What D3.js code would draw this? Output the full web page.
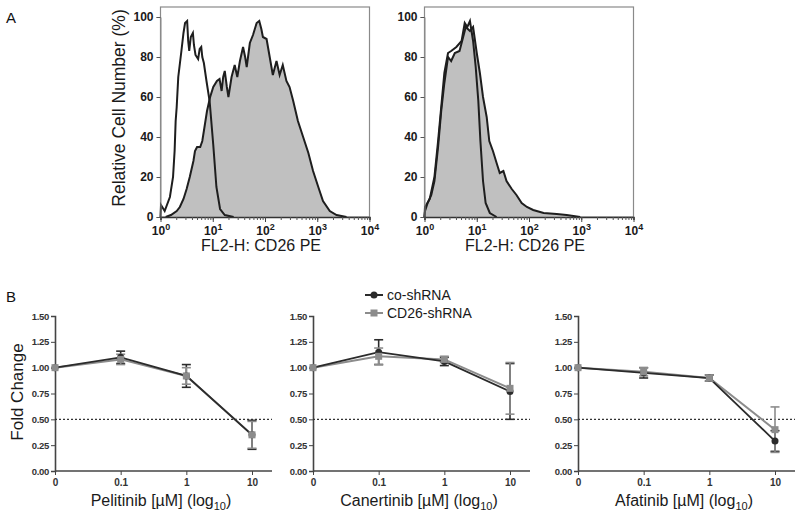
<!DOCTYPE html>
<html><head><meta charset="utf-8">
<script src="https://cdn.jsdelivr.net/npm/d3@7/dist/d3.min.js"></script>
<style>body{margin:0;background:#fff} svg{font-family:"Liberation Sans",Arial,sans-serif}</style>
</head><body><svg id="c" width="800" height="518"></svg>
<script>
// ---------- Panel A data (x = log10 fluorescence exponent, y = % of max) ----------
const histXTicks = [1, 10, 100, 1000, 10000];
const histYTicks = [0, 20, 40, 60, 80, 100];
const histLeftOpen = [[0,0],[0.01,6],[0.08,3],[0.18,10],[0.24,20],[0.27,33],[0.29,48],[0.31,55],[0.34,70],[0.40,83],[0.44,92],[0.47,97],[0.51,98],[0.53,88],[0.55,83],[0.58,90],[0.62,92],[0.64,86],[0.67,81],[0.72,79],[0.75,84],[0.78,85],[0.80,80],[0.83,77],[0.88,68],[0.94,58],[1.01,36],[1.07,15],[1.14,4],[1.23,1],[1.4,0]];
const histLeftFilled = [[0.1,0],[0.2,1],[0.31,3],[0.37,5],[0.44,9],[0.50,14],[0.56,20],[0.63,28],[0.66,33],[0.70,35],[0.76,35],[0.80,38],[0.83,43],[0.89,53],[0.95,60],[1.01,65],[1.08,68],[1.13,69],[1.17,63],[1.20,70],[1.23,73],[1.27,65],[1.30,60],[1.36,70],[1.42,76],[1.47,70],[1.52,78],[1.58,85],[1.62,80],[1.65,75],[1.71,87],[1.77,91],[1.84,97],[1.89,98],[1.93,94],[1.96,90],[2.03,89],[2.09,80],[2.15,71],[2.22,78],[2.28,71],[2.34,76],[2.41,68],[2.47,65],[2.54,58],[2.63,48],[2.73,40],[2.83,32],[2.92,23],[3.02,15],[3.11,8],[3.24,3],[3.37,1],[3.56,0]];
const histRightFilled = [[0,0],[0.01,3],[0.06,7],[0.13,11],[0.19,18],[0.26,35],[0.32,53],[0.38,67],[0.45,80],[0.51,78],[0.58,82],[0.67,83],[0.74,90],[0.79,95],[0.87,93],[0.93,95],[1.0,82],[1.06,72],[1.12,60],[1.19,50],[1.24,38],[1.31,33],[1.38,27],[1.44,22],[1.51,23],[1.57,18],[1.67,14],[1.76,11],[1.86,7],[1.96,5],[2.08,3.5],[2.28,2],[2.53,1.5],[2.72,1],[2.98,0]];
const histRightOpen = [[0,0],[0.01,5],[0.1,9],[0.19,20],[0.26,38],[0.32,55],[0.38,72],[0.45,82],[0.51,83],[0.61,85],[0.71,88],[0.77,97],[0.82,95],[0.87,98],[0.93,88],[0.98,75],[1.03,58],[1.07,38],[1.12,18],[1.17,7],[1.25,2],[1.38,0]];

// ---------- Panel B data ----------
const doseLabels = ["0", "0.1", "1", "10"];
const foldTicks = [0, 0.25, 0.5, 0.75, 1.0, 1.25, 1.5];
const drugs = ["Pelitinib", "Canertinib", "Afatinib"];
const seriesNames = ["co-shRNA", "CD26-shRNA"];
const pelitinibCo = [1.00, 1.10, 0.92, 0.35];
const pelitinibCoErr = [0, 0.06, 0.11, 0.14];
const pelitinibCd = [1.00, 1.08, 0.92, 0.35];
const pelitinibCdErr = [0, 0.05, 0.08, 0.13];
const canertinibCo = [1.00, 1.15, 1.06, 0.77];
const canertinibCoErr = [0, 0.12, 0.04, 0.27];
const canertinibCd = [1.00, 1.11, 1.08, 0.80];
const canertinibCdErr = [0, 0.08, 0.03, 0.25];
const afatinibCo = [1.00, 0.95, 0.90, 0.29];
const afatinibCoErr = [0, 0.05, 0.03, 0.10];
const afatinibCd = [1.00, 0.96, 0.90, 0.40];
const afatinibCdErr = [0, 0.04, 0.03, 0.22];

const svg = d3.select("#c");
const dark = "#2b2b2b", grayS = "#8c8c8c";

// ---------- Panel A ----------
function drawHist(x0, filled, open) {
  const w = 209, top = 7, bottom = 217;
  const x = d3.scaleLog().domain([1, 10000]).range([x0, x0 + w]);
  const y = d3.scaleLinear().domain([0, 100]).range([bottom, 17]);
  const g = svg.append("g");
  g.append("rect").attr("x", x0).attr("y", top).attr("width", w).attr("height", bottom - top)
    .attr("fill", "none").attr("stroke", "#8a8a8a").attr("stroke-width", 1.2);
  const px = d => x(Math.pow(10, d[0]));
  const area = d3.area().x(px).y0(bottom).y1(d => y(d[1]));
  const line = d3.line().x(px).y(d => y(d[1]));
  g.append("path").datum(filled).attr("d", area).attr("fill", "#c0c0c0");
  g.append("path").datum(filled).attr("d", line).attr("fill", "none").attr("stroke", "#1e1e1e").attr("stroke-width", 2);
  g.append("path").datum(open).attr("d", line).attr("fill", "none").attr("stroke", "#1e1e1e").attr("stroke-width", 2);
  // y axis
  const ya = g.append("g").attr("transform", `translate(${x0},0)`)
    .call(d3.axisLeft(y).tickValues(histYTicks).tickSize(4).tickPadding(3));
  ya.select(".domain").attr("stroke", "#8a8a8a");
  ya.selectAll("text").attr("font-size", 12).attr("font-weight", "bold").attr("fill", "#1a1a1a");
  ya.selectAll("line").attr("stroke", "#555");
  // minor x ticks
  const xm = g.append("g").attr("transform", `translate(0,${bottom})`)
    .call(d3.axisBottom(x).ticks(40).tickSize(3).tickFormat(""));
  xm.select(".domain").attr("stroke", "#333").attr("stroke-width", 1.5);
  xm.selectAll("line").attr("stroke", "#555");
  // major x ticks
  const xa = g.append("g").attr("transform", `translate(0,${bottom})`)
    .call(d3.axisBottom(x).tickValues(histXTicks).tickSize(5).tickPadding(4).tickFormat(d => d));
  xa.select(".domain").remove();
  xa.selectAll("line").attr("stroke", "#444");
  xa.selectAll("text").each(function(d) {
    const t = d3.select(this).text(null).attr("font-size", 12).attr("font-weight", "bold").attr("fill", "#1a1a1a");
    t.append("tspan").text("10");
    t.append("tspan").text(Math.round(Math.log10(d))).attr("font-size", 9).attr("dy", -5);
  });
  g.append("text").attr("x", x0 + w / 2 - 4).attr("y", 251).attr("text-anchor", "middle")
    .attr("font-size", 16).attr("fill", "#1a1a1a").text("FL2-H: CD26 PE");
}
drawHist(160.5, histLeftFilled, histLeftOpen);
drawHist(424.5, histRightFilled, histRightOpen);
svg.append("text").attr("transform", "translate(125,108) rotate(-90)").attr("text-anchor", "middle")
  .attr("font-size", 17.5).attr("fill", "#1a1a1a").text("Relative Cell Number (%)");
svg.append("text").attr("x", 6).attr("y", 23).attr("font-size", 15).attr("fill", "#111").text("A");
svg.append("text").attr("x", 6).attr("y", 302).attr("font-size", 15).attr("fill", "#111").text("B");

// ---------- Panel B ----------
function drawDose(x0, drug, co, coErr, cd, cdErr) {
  const x = d3.scalePoint().domain(doseLabels).range([x0, x0 + 197]);
  const xEnd = x0 + 217;
  const y = d3.scaleLinear().domain([0, 1.5]).range([471, 316]);
  const g = svg.append("g");
  const ya = g.append("g").attr("transform", `translate(${x0},0)`)
    .call(d3.axisLeft(y).tickValues(foldTicks).tickSize(4).tickPadding(2).tickFormat(d3.format(".2f")));
  ya.selectAll("text").attr("font-size", 9.5).attr("font-weight", "bold").attr("fill", "#333").attr("letter-spacing", "-0.3");
  ya.select(".domain").attr("stroke", "#444").attr("stroke-width", 1.6);
  ya.selectAll("line").attr("stroke", "#444");
  const xa = g.append("g").attr("transform", `translate(0,${y(0)})`)
    .call(d3.axisBottom(x).tickSize(4).tickPadding(4).tickSizeOuter(0));
  xa.select(".domain").attr("d", `M${x0},0H${xEnd}`).attr("stroke", "#444").attr("stroke-width", 1.6);
  xa.selectAll("line").attr("stroke", "#444");
  xa.selectAll("text").attr("font-size", 10).attr("font-weight", "bold").attr("fill", "#333");
  g.append("line").attr("x1", x0).attr("x2", xEnd).attr("y1", y(0.5)).attr("y2", y(0.5))
    .attr("stroke", "#333").attr("stroke-width", 1.4).attr("stroke-dasharray", "2,2");
  const line = d3.line().x((d, i) => x(doseLabels[i])).y(d => y(d));
  g.append("path").datum(cd).attr("d", line).attr("fill", "none").attr("stroke", grayS).attr("stroke-width", 2);
  g.append("path").datum(co).attr("d", line).attr("fill", "none").attr("stroke", dark).attr("stroke-width", 1.8);
  function errs(vals, e, col) {
    vals.forEach((v, i) => {
      if (!e[i]) return;
      const cx = x(doseLabels[i]);
      g.append("line").attr("x1", cx).attr("x2", cx).attr("y1", y(v - e[i])).attr("y2", y(v + e[i])).attr("stroke", col).attr("stroke-width", 1.6);
      [v - e[i], v + e[i]].forEach(c => g.append("line").attr("x1", cx - 4.5).attr("x2", cx + 4.5)
        .attr("y1", y(c)).attr("y2", y(c)).attr("stroke", col).attr("stroke-width", 1.6));
    });
  }
  errs(co, coErr, dark);
  errs(cd, cdErr, grayS);
  g.selectAll(null).data(co).join("circle").attr("cx", (d, i) => x(doseLabels[i])).attr("cy", d => y(d)).attr("r", 3.5).attr("fill", dark);
  g.selectAll(null).data(cd).join("rect").attr("x", (d, i) => x(doseLabels[i]) - 3.5).attr("y", d => y(d) - 3.5)
    .attr("width", 7).attr("height", 7).attr("fill", grayS);
  const t = g.append("text").attr("x", x0 + 106).attr("y", 506).attr("text-anchor", "middle").attr("font-size", 16).attr("fill", "#1a1a1a");
  t.append("tspan").text(drug + " [µM] (log");
  t.append("tspan").text("10").attr("font-size", 11).attr("dy", 4);
  t.append("tspan").text(")").attr("dy", -4);
}
drawDose(55, drugs[0], pelitinibCo, pelitinibCoErr, pelitinibCd, pelitinibCdErr);
drawDose(313, drugs[1], canertinibCo, canertinibCoErr, canertinibCd, canertinibCdErr);
drawDose(578, drugs[2], afatinibCo, afatinibCoErr, afatinibCd, afatinibCdErr);
svg.append("text").attr("transform", "translate(23,392) rotate(-90)").attr("text-anchor", "middle")
  .attr("font-size", 17).attr("fill", "#1a1a1a").text("Fold Change");

const leg = svg.append("g");
seriesNames.forEach((n, i) => {
  const yy = 295 + i * 18, col = i === 0 ? dark : grayS;
  leg.append("line").attr("x1", 365).attr("x2", 383).attr("y1", yy).attr("y2", yy).attr("stroke", col).attr("stroke-width", 2);
  if (i === 0) leg.append("circle").attr("cx", 374).attr("cy", yy).attr("r", 3.5).attr("fill", col);
  else leg.append("rect").attr("x", 370.5).attr("y", yy - 3.5).attr("width", 7).attr("height", 7).attr("fill", col);
  leg.append("text").attr("x", 387).attr("y", yy + 5).attr("font-size", 14).attr("fill", "#1a1a1a").text(n);
});
</script></body></html>
